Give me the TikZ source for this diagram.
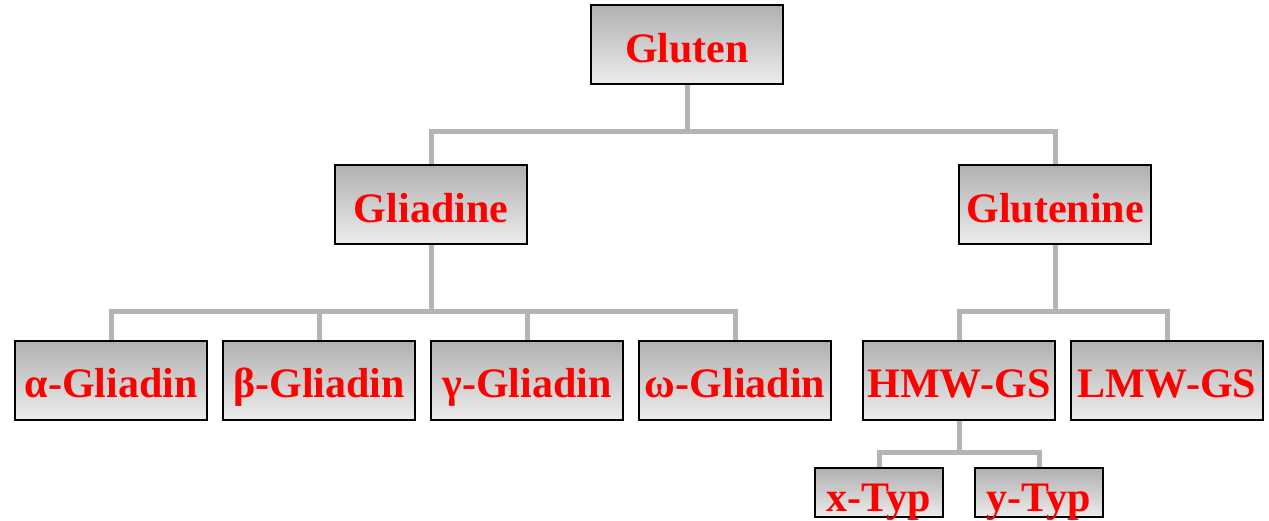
\documentclass[tikz,border=0pt]{standalone}
\usepackage{fontspec}
\setmainfont{Liberation Serif}
\definecolor{boxtop}{RGB}{176,176,176}
\definecolor{boxbot}{RGB}{236,236,236}
\definecolor{conncol}{RGB}{180,180,180}
\definecolor{txtred}{RGB}{255,0,0}
\begin{document}
\begin{tikzpicture}[x=1pt,y=-1pt,
  box/.style={draw=black, line width=2pt, top color=boxtop, bottom color=boxbot,
    minimum width=192pt, minimum height=79pt, inner sep=0pt,
    text height=35pt, text depth=0pt,
    font=\fontsize{42}{48}\selectfont\bfseries, text=txtred},
  smallbox/.style={box, minimum width=128pt, minimum height=49pt, text height=38pt},
  conn/.style={draw=conncol, line width=5pt}]
\useasboundingbox (0,0) rectangle (1269,520);
% boxes
\node[box] (gluten) at (687,44.5) {Gluten};
\node[box] (gliadine) at (431,204.5) {Gliadine};
\node[box] (glutenine) at (1055,204.5) {Glutenine};
\node[box] (alpha) at (111,380) {α-Gliadin};
\node[box] (beta) at (319,380) {β-Gliadin};
\node[box] (gamma) at (527,380) {γ-Gliadin};
\node[box] (omega) at (735,380) {ω-Gliadin};
\node[box] (hmw) at (959,380) {HMW-GS};
\node[box] (lmw) at (1167,380) {LMW-GS};
\node[smallbox] (xtyp) at (879,492.5) {x-Typ};
\node[smallbox] (ytyp) at (1039,492.5) {y-Typ};
% connectors
\draw[conn] (gluten.south) -- ++(0,46) coordinate (j1) -| (gliadine.north);
\draw[conn] (j1) -| (glutenine.north);
\draw[conn] (gliadine.south) -- ++(0,66) coordinate (j2) -| (alpha.north);
\draw[conn] (j2) -| (beta.north);
\draw[conn] (j2) -| (gamma.north);
\draw[conn] (j2) -| (omega.north);
\draw[conn] (glutenine.south) -- ++(0,66) coordinate (j3) -| (hmw.north);
\draw[conn] (j3) -| (lmw.north);
\draw[conn] (hmw.south) -- ++(0,32) coordinate (j4) -| (xtyp.north);
\draw[conn] (j4) -| (ytyp.north);
\end{tikzpicture}
\end{document}
